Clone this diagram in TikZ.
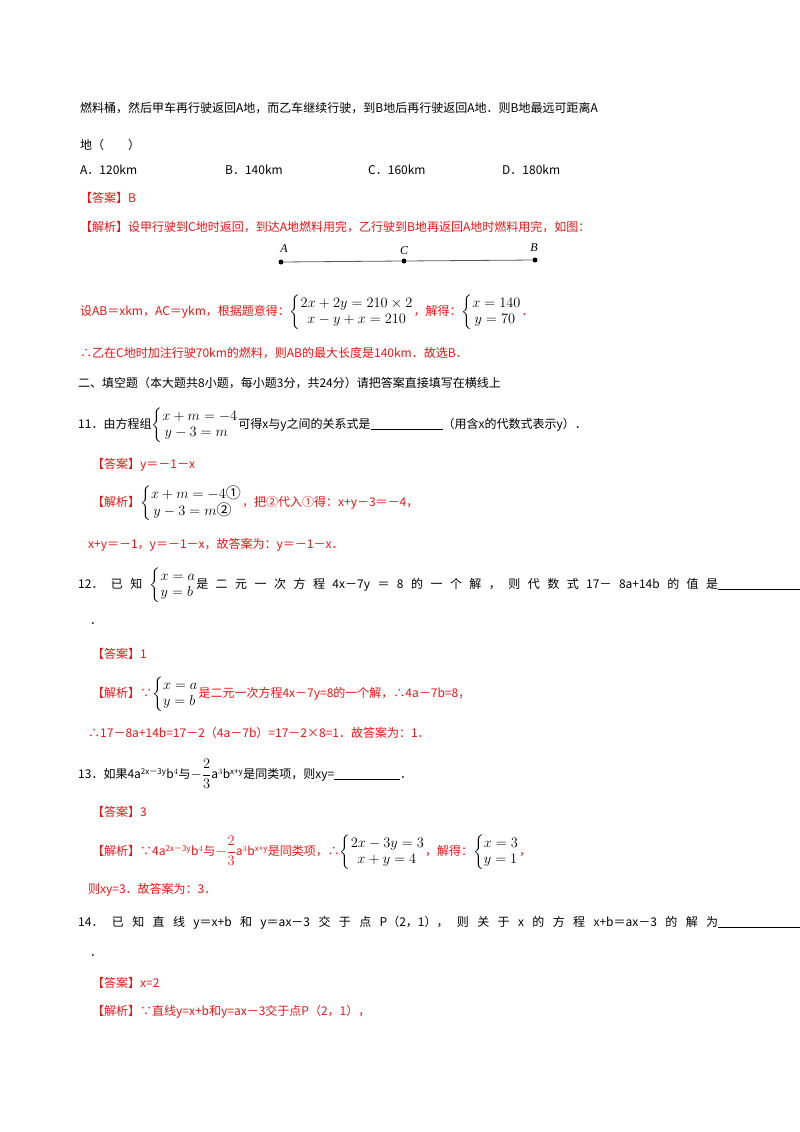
\documentclass[tikz,border=0pt]{standalone}
\usepackage{amsmath}
\usepackage{fontspec}
\setmainfont{Noto Sans CJK SC}
\newfontfamily\serifit{Liberation Serif}
\definecolor{ans}{RGB}{235,20,20}
\newcommand\sys[1]{{\fontsize{15}{16}\selectfont$\left\{\begin{array}{@{}l@{}}#1\end{array}\right.$}}
\begin{document}
\begin{tikzpicture}[x=1pt,y=-1pt,
  t/.style={anchor=west,inner sep=0pt,font=\fontsize{12}{14}\selectfont},
  r/.style={t,text=ans},
  pt/.style={circle,fill=black,inner sep=0pt,minimum size=5pt},
  lab/.style={inner sep=0pt,font=\serifit\itshape\fontsize{12}{12}\selectfont}]
\useasboundingbox (0,0) rectangle (800,1132);
\fill[white] (0,0) rectangle (800,1132);
\node[t] (l1) at (80,108) {燃料桶，然后甲车再行驶返回A地，而乙车继续行驶，到B地后再行驶返回A地．则B地最远可距离A};
\node[t] (l2) at (80,145) {地（\quad\quad）};
\node[t] (oa) at (80,170) {A．120km};
\node[t] (ob) at (225,170) {B．140km};
\node[t] (oc) at (368,170) {C．160km};
\node[t] (od) at (502,170) {D．180km};
\node[r] (a10) at (80,198) {【答案】B};
\node[r] (j10) at (80,227) {【解析】设甲行驶到C地时返回，到达A地燃料用完，乙行驶到B地再返回A地时燃料用完，如图：};
\node[pt] (A) at (281,262) {};
\node[pt] (C) at (404,261) {};
\node[pt] (B) at (535,260) {};
\draw[thick,gray!70!black] (A) -- (C) -- (B);
\node[lab] (LA) at (284,249) {A};
\node[lab] (LC) at (404,251) {C};
\node[lab] (LB) at (534,248) {B};
\node[r] (s10) at (80,312) {设AB＝xkm，AC＝ykm，根据题意得：\textcolor{black}{\sys{2x+2y=210\times2\\ \ \ x-y+x=210}}，解得：\textcolor{black}{\sys{x=140\\ \,y=70}}．};
\node[r] (e10) at (80,353) {∴乙在C地时加注行驶70km的燃料，则AB的最大长度是140km．故选B．};
\node[t] (h2) at (78,383) {二、填空题（本大题共8小题，每小题3分，共24分）请把答案直接填写在横线上};
\node[t] (q11) at (78,425) {11．由方程组\sys{x+m=-4\\ \,y-3=m}可得x与y之间的关系式是\rule[-1pt]{72pt}{0.6pt}（用含x的代数式表示y）．};
\node[r] (a11) at (92,465) {【答案】y＝－1－x};
\node[r] (j11) at (92,503) {【解析】\textcolor{black}{\sys{x+m=-4\text{①}\\ \,y-3=m\text{②}}}，把②代入①得：x+y－3＝－4，};
\node[r] (e11) at (88,545) {x+y＝－1，y＝－1－x，故答案为：y＝－1－x．};
\node[t] (q12) at (78,585) {\makebox[640pt][s]{12． 已 知 \sys{x=a\\ y=b}是 二 元 一 次 方 程 4x－7y ＝ 8 的 一 个 解 ， 则 代 数 式 17－ 8a+14b 的 值 是}\rule[-1pt]{82pt}{0.6pt}};
\node[t] (d12) at (90,624) {．};
\node[r] (a12) at (92,654) {【答案】1};
\node[r] (j12) at (92,694) {【解析】∵\textcolor{black}{\sys{x=a\\ y=b}}是二元一次方程4x－7y=8的一个解，∴4a－7b=8，};
\node[r] (e12) at (88,733) {∴17－8a+14b=17－2（4a－7b）=17－2×8=1．故答案为：1．};
\node[t] (q13) at (78,774) {13．如果4a$^{\text{2x－3y}}$b$^4$与{\fontsize{14}{16}\selectfont$-\dfrac{2}{3}$}a$^3$b$^{\text{x+y}}$是同类项，则xy=\rule[-1pt]{66pt}{0.6pt}．};
\node[r] (a13) at (92,812) {【答案】3};
\node[r] (j13) at (92,852) {【解析】∵4a$^{\text{2x－3y}}$b$^4$与{\fontsize{14}{16}\selectfont$-\dfrac{2}{3}$}a$^3$b$^{\text{x+y}}$是同类项，∴\textcolor{black}{\sys{2x-3y=3\\ \ \ x+y=4}}，解得：\textcolor{black}{\sys{x=3\\ y=1}}，};
\node[r] (e13) at (88,890) {则xy=3．故答案为：3．};
\node[t] (q14) at (78,923) {\makebox[640pt][s]{14． 已 知 直 线 y＝x+b 和 y＝ax－3 交 于 点 P（2，1）， 则 关 于 x 的 方 程 x+b＝ax－3 的 解 为}\rule[-1pt]{82pt}{0.6pt}};
\node[t] (d14) at (90,956) {．};
\node[r] (a14) at (92,983) {【答案】x=2};
\node[r] (j14) at (92,1012) {【解析】∵直线y=x+b和y=ax－3交于点P（2，1），};
\end{tikzpicture}
\end{document}
